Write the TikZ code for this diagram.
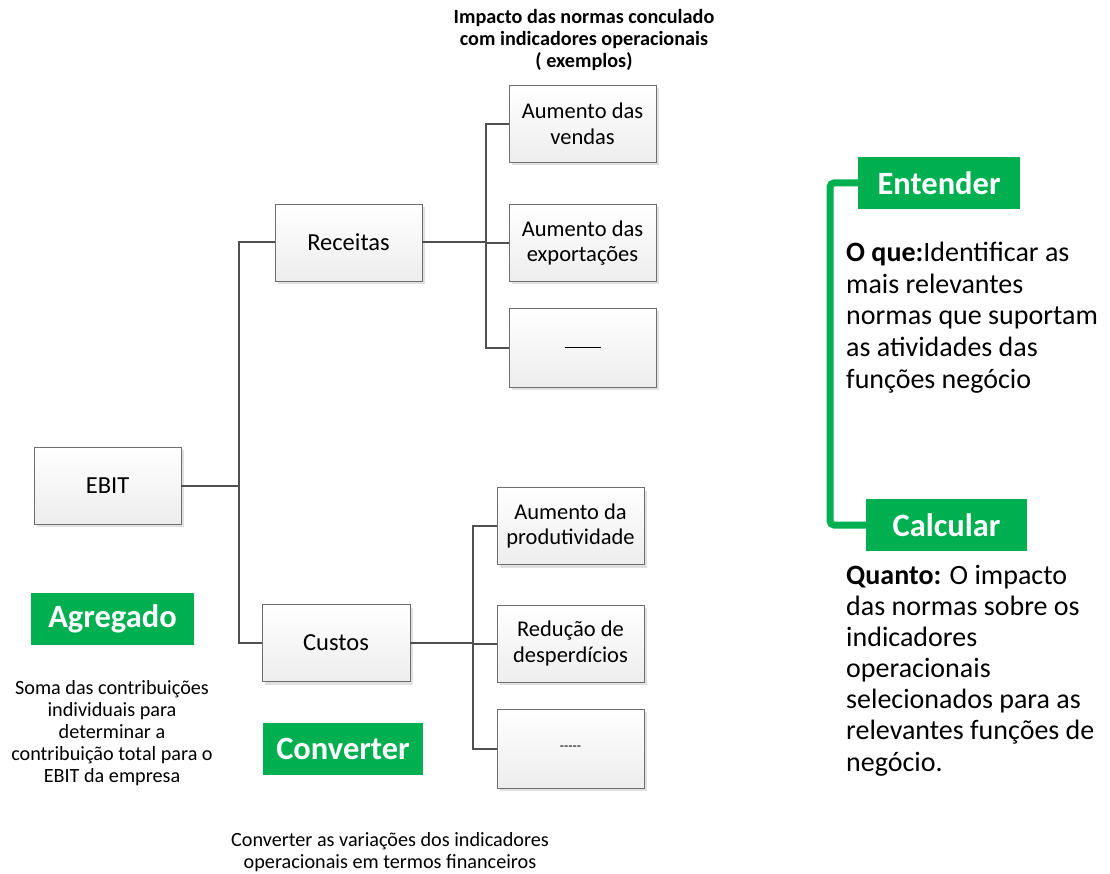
\documentclass[tikz,border=0pt]{standalone}
\usepackage{fontspec}
\setmainfont{Carlito}
\usetikzlibrary{shadows}
\definecolor{boxline}{HTML}{6E6E6E}
\definecolor{linkgray}{HTML}{505050}
\definecolor{leafgreen}{HTML}{00B050}
\tikzset{
  boxbase/.style={draw=boxline, line width=0.9pt, top color=white, bottom color=black!7,
    drop shadow={shadow xshift=3pt, shadow yshift=-3pt, fill=black!12, opacity=1},
    inner sep=0pt, align=center, text=black},
  mainbox/.style={boxbase, minimum width=147pt, minimum height=77pt, font=\fontsize{24.5}{28}\selectfont},
  leafbox/.style={boxbase, minimum width=147pt, minimum height=77pt, font=\fontsize{22.5}{25.5}\selectfont},
  tag/.style={fill=leafgreen, text=white, inner sep=0pt, minimum height=52pt,
    font=\bfseries\fontsize{32.5}{36}\selectfont},
  link/.style={draw=linkgray, line width=2pt},
  note/.style={align=center, inner sep=0pt, font=\fontsize{20.2}{22}\selectfont},
  panel/.style={align=left, anchor=north west, inner sep=0pt, font=\fontsize{28}{32}\selectfont},
  bracket/.style={draw=leafgreen, line width=7pt, rounded corners=4pt}
}
\begin{document}
\begin{tikzpicture}[x=1pt,y=-1pt]
\useasboundingbox (0,0) rectangle (1110,874);

% tree boxes
\node[mainbox] (ebit) at (107.5,485.5) {EBIT};
\node[mainbox] (rec) at (348.5,242.5) {Receitas};
\node[mainbox, minimum width=148pt] (cus) at (336,643) {Custos};

\node[leafbox] (r1) at (582.5,124) {Aumento das\\vendas};
\node[leafbox] (r2) at (582.5,243) {Aumento das\\exportações};
\node[leafbox, minimum height=79pt] (r3) at (582.5,347.5) {\rule[0pt]{36pt}{0.6pt}};

\node[leafbox] (c1) at (570.5,526) {Aumento da\\produtividade};
\node[leafbox] (c2) at (570.5,643.5) {Redução de\\desperdícios};
\node[leafbox, minimum height=79pt] (c3) at (570.5,748.5) {\fontsize{14}{15}\selectfont -{}-{}-{}-{}-};

% connectors
\coordinate (t0) at (239,0);
\coordinate (t1) at (486,0);
\coordinate (t2) at (473,0);
\draw[link] (ebit.east) -- (ebit.east -| t0);
\draw[link] (rec.west) -| (t0 |- ebit.east) |- (cus.west);
\draw[link] (rec.east) -- (rec.east -| t1);
\draw[link] (r1.west) -| (t1 |- r3.west) -- (r3.west);
\draw[link] (r2.west) -- (r2.west -| t1);
\draw[link] (cus.east) -- (cus.east -| t2);
\draw[link] (c1.west) -| (t2 |- c3.west) -- (c3.west);
\draw[link] (c2.west) -- (c2.west -| t2);

% title over the leaves
\node[note, font=\bfseries\fontsize{20.2}{22}\selectfont] (title) at (584,40)
  {Impacto das normas conculado\\com indicadores operacionais\\( exemplos)};

% green labels with their notes
\node[tag, minimum width=163pt] (agr) at (112.5,619) {Agregado};
\node[note] (agrnote) at (112,733)
  {Soma das contribuições\\individuais para\\determinar a\\contribuição total para o\\EBIT da empresa};
\node[tag, minimum width=160pt] (conv) at (343,749) {Converter};
\node[note] (convnote) at (390,852)
  {Converter as variações dos indicadores\\operacionais em termos financeiros};

\node[tag, minimum width=162pt] (ent) at (939,183) {Entender};
\node[tag, minimum width=161pt] (calc) at (946.5,525) {Calcular};
\coordinate (bk) at (830,0);
\draw[bracket] (ent.west) -| (bk |- calc.west) -- (calc.west);

\node[panel, font=\fontsize{28}{31.6}\selectfont] (what) at (846,242)
  {\textbf{O que:}Identificar as\\mais relevantes\\normas que suportam\\as atividades das\\funções negócio};
\node[panel, font=\fontsize{28}{31.1}\selectfont] (howmuch) at (846,565)
  {\textbf{Quanto:} O impacto\\das normas sobre os\\indicadores\\operacionais\\selecionados para as\\relevantes funções de\\negócio.};
\end{tikzpicture}
\end{document}
